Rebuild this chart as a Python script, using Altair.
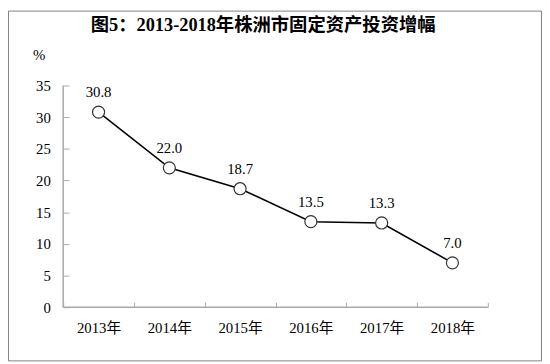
import altair as alt
import pandas as pd

years = ["2013年", "2014年", "2015年", "2016年", "2017年", "2018年"]
growth = [30.8, 22.0, 18.7, 13.5, 13.3, 7.0]
y_ticks = [0, 5, 10, 15, 20, 25, 30, 35]
title_text = "图5：2013-2018年株洲市固定资产投资增幅"

FONT = "Liberation Serif, Noto Sans CJK SC"
W, H = 431, 225
AXIS_GRAY = "#a8a8a8"

df = pd.DataFrame({"year": years, "growth": growth,
                   "label": [f"{v:.1f}" for v in growth]})
dom_df = pd.DataFrame({"growth": [0], "top": [35]})
one = pd.DataFrame({"a": [0]})
title_df = pd.DataFrame({"t": [title_text]})

x_enc = alt.X("year:N", sort=years,
              scale=alt.Scale(type="band", paddingInner=0, paddingOuter=0),
              axis=alt.Axis(title=None, labelAngle=0, tickBand="extent",
                            ticks=True, tickSize=5, offset=-5, domain=False, grid=False,
                            tickColor=AXIS_GRAY, tickWidth=1, labelFont=FONT,
                            labelFontSize=15, labelColor="black", labelPadding=14))
y_axis = alt.Axis(values=y_ticks, ticks=True, tickSize=6, offset=-6,
                  domain=False, grid=False, tickColor=AXIS_GRAY, tickWidth=1,
                  labelFont=FONT, labelOverlap=False,
                  labelFontSize=15, labelColor="black", labelPadding=13,
                  title="%", titleAngle=0, titleFont=FONT,
                  titleFontSize=15, titleFontWeight="normal",
                  titleAlign="center", titleBaseline="middle",
                  titleX=-31, titleY=-31, titleColor="black")
y_scale = alt.Scale(domain=[0, 35], nice=False)
y_enc = alt.Y("growth:Q", scale=y_scale, axis=y_axis)

base = alt.Chart(df)
line = base.mark_line(color="black", strokeWidth=1.6).encode(x=x_enc, y=y_enc)
pts = base.mark_point(filled=True, fill="white", stroke="#333333", strokeWidth=1.2,
                      size=150, opacity=1).encode(x=x_enc, y=y_enc)
txt = base.mark_text(dy=-20, font=FONT, fontSize=15, color="black").encode(
    x=x_enc, y=y_enc, text="label:N")

dom = alt.Chart(dom_df)
xdom = dom.mark_rule(color=AXIS_GRAY, strokeWidth=1.5).encode(
    x=alt.value(0), x2=alt.value(W), y=y_enc)
ydom = dom.mark_rule(color=AXIS_GRAY, strokeWidth=1.5).encode(
    x=alt.value(0), y=y_enc, y2="top:Q")
border = alt.Chart(one).mark_rect(filled=False, stroke="#808080", strokeWidth=1).encode(
    x=alt.value(-55.5), x2=alt.value(485.5), y=alt.value(-75.5), y2=alt.value(279.5))
title = alt.Chart(title_df).mark_text(font=FONT, fontSize=18.6, fontWeight="bold",
                                      color="black", baseline="middle", align="center").encode(
    text="t:N", x=alt.value(203), y=alt.value(-61))

chart = alt.layer(xdom, ydom, line, pts, txt, border, title).properties(
    width=W, height=H,
    autosize=alt.AutoSizeParams(type="none"),
    padding={"left": 56, "top": 76, "right": 55, "bottom": 55},
    background="white",
).configure_view(strokeWidth=0)

chart.save("out.html", embed_options={"renderer": "svg", "actions": False})
